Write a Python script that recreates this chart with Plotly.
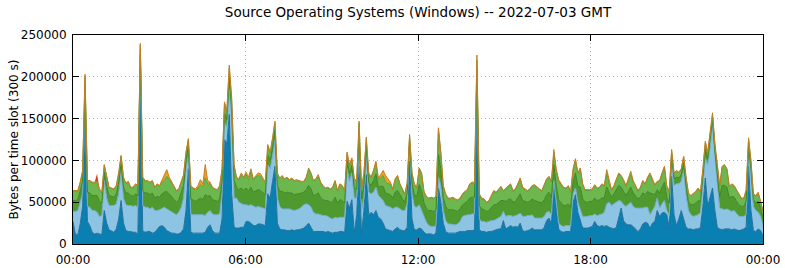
import plotly.graph_objects as go

# 5-minute slots over 2022-07-03 (288 slots), values in thousands of bytes per slot
win_blue = [
    27,12,11,24,45,155,27,22,14,12, 13,12,11,40,25,17,15,14,18,30, 52,25,16,15,15,14,14,12,205,16,
    14,15,15,13,14,18,21,22,20,16, 14,13,13,12,12,14,18,40,
    90,14,13,13,13,13,13,14,20,23, 16,13,13,13,30,125,120,155,60,20, 19,19,20,20,27,27,25,22,22,24,
    24,23,22,60,55,75,93,25,18,17, 17,16,16,17,16,17,17,18,
    19,22,25,20,15,15,15,15,15,14, 15,14,13,14,14,15,15,14,51,43, 53,13,35,93,12,40,83,35,38,35,
    40,32,30,25,18,17,16,15,18,20, 17,16,16,20,99,30,17,17,
    19,18,14,12,12,12,11,13,67,50, 25,15,13,13,13,13,14,15,15,15, 16,16,16,17,176,17,15,15,14,15,
    15,16,17,18,18,28,18,20,22,20, 21,20,25,16,15,16,17,19,
    17,17,17,17,20,28,31,24,71,40, 18,15,14,15,15,15,50,59,38,28, 19,19,19,20,21,27,22,21,22,21,
    22,20,19,18,20,30,43,28,24,23, 23,21,18,15,18,24,26,25,
    19,25,27,40,33,37,38,35,20,81, 35,22,30,40,30,20,18,18,17,18, 18,20,45,79,45,55,67,40,20,18,
    17,18,18,18,17,18,17,16,17,18, 20,93,40,16,15,18,16,10,
]
win_lightblue = [
    12,27,29,26,15,23,18,22,26,28, 25,21,23,36,30,29,31,32,30,30, 35,30,31,31,31,31,32,32,21,30,
    30,29,27,31,26,22,20,21,24,26, 26,25,23,23,26,30,37,50,
    17,22,22,22,22,22,22,20,18,17, 20,22,22,23,30,20,20,30,90,35, 36,31,28,27,20,19,22,23,22,21,
    20,20,20,35,35,30,32,30,27,25, 25,26,26,24,24,24,25,26,
    28,26,22,24,23,21,21,20,19,20, 18,17,17,18,17,17,17,18,39,32, 32,42,20,24,28,15,22,27,22,27,
    28,26,25,27,28,28,28,27,26,24, 25,24,24,28,20,30,28,27,
    28,22,19,14,10,9,10,9,13,20, 15,13,11,11,10,10,10,12,18,19, 19,19,20,19,14,13,12,12,12,12,
    13,12,13,13,15,11,15,14,12,13, 13,15,12,17,18,18,17,16,
    14,14,14,14,13,10,8,11,5,10, 7,7,7,7,7,7,10,8,12,12, 14,14,14,14,13,9,12,14,14,17,
    26,30,27,30,30,22,8,19,21,25, 27,24,25,28,25,19,18,19,
    16,15,18,15,10,11,14,5,14,19, 35,50,42,35,58,38,22,17,16,16, 17,18,25,24,50,60,76,60,50,25,
    25,23,24,22,22,22,19,17,16,15, 15,16,40,29,25,20,17,12,
]
win_darkgreen = [
    13,13,13,13,15,13,17,17,18,18, 20,18,15,10,14,12,11,10,12,13, 10,13,14,15,12,12,14,14,7,18,
    17,17,17,17,15,17,15,17,18,21, 20,19,18,15,15,17,15,10,
    10,18,17,16,18,20,18,25,19,18, 17,17,16,18,15,12,9,14,12,21, 13,15,19,17,20,17,21,17,20,20,
    20,18,17,12,10,11,11,15,18,21, 19,20,19,20,19,19,18,17,
    15,17,23,22,20,23,25,21,19,18, 19,19,20,24,18,21,20,17,10,10, 9,12,11,15,14,16,12,12,10,14,
    16,10,14,17,15,15,15,13,18,20, 16,14,10,13,6,13,14,13,
    24,24,16,17,18,19,18,19,27,20, 16,17,17,17,18,17,15,15,14,15, 16,20,20,20,20,16,15,14,13,13,
    16,19,17,19,19,13,18,19,20,17, 17,20,23,19,18,16,17,19,
    21,20,19,18,20,21,23,21,19,20, 28,27,25,24,26,22,15,18,19,28, 21,17,17,17,17,19,18,18,19,17,
    20,12,10,12,15,18,17,16,13,15, 18,16,14,11,13,18,15,19,
    26,20,14,10,18,20,22,15,15,6, 8,8,7,8,9,12,11,12,14,15, 17,13,10,10,7,10,6,10,13,14,
    28,29,26,15,18,16,15,14,12,12, 16,9,10,8,9,13,10,9,
]
win_lightgreen = [
    11,11,10,10,12,10,13,14,15,15, 16,14,12,8,12,9,9,9,9,11, 8,11,11,13,9,10,11,11,5,15,
    14,14,14,14,12,14,13,14,14,18, 17,16,15,13,12,13,12,9,
    8,15,14,13,14,16,15,20,15,14, 14,13,13,15,13,10,8,11,10,17, 11,12,16,14,16,14,18,14,16,17,
    17,15,14,10,8,9,9,13,15,18, 16,17,15,17,16,16,15,13,
    12,14,19,18,17,18,20,17,16,14, 15,15,17,19,14,18,17,14,8,8, 7,10,9,13,11,13,9,10,9,11,
    13,9,11,13,13,12,13,10,15,17, 13,11,9,11,4,11,12,10,
    19,20,13,13,14,15,15,15,30,18, 13,14,13,13,14,13,13,12,12,13, 13,16,17,16,10,13,12,12,10,11,
    13,16,14,15,16,11,15,16,17,13, 14,16,18,15,14,13,14,15,
    18,16,15,14,16,18,18,18,15,17, 22,22,21,20,21,18,13,15,15,22, 17,14,14,13,14,15,14,14,16,14,
    17,10,8,9,12,14,13,13,11,13, 15,13,12,9,11,14,12,16,
    22,17,11,9,14,16,18,13,12,5, 6,7,6,6,7,9,9,10,12,13, 14,11,8,8,6,8,5,8,10,12,
    22,24,21,13,14,13,13,12,9,9, 13,7,8,6,8,10,8,8,
]
win_orange = [
    1,1,1,1,1,2,1,1,1,1, 1,1,1,1,1,1,1,1,1,1, 1,1,1,1,1,1,1,1,2,1,
    1,1,1,1,1,1,1,3,6,8, 3,1,1,1,1,1,1,1,
    1,1,1,2,3,6,4,16,4,2, 1,1,1,1,2,3,3,4,3,2, 1,1,2,2,3,3,4,2,2,3,
    3,2,1,2,2,2,2,2,1,1, 1,1,1,1,1,1,1,1,
    1,1,2,1,1,1,2,1,1,1, 1,1,1,1,1,1,1,1,2,2, 2,1,1,2,1,1,2,1,1,1,
    2,2,3,6,8,6,2,1,1,1, 1,1,1,1,2,1,1,1,
    1,1,1,1,1,1,1,1,2,2, 1,1,1,1,1,1,1,1,1,1, 1,1,1,2,6,1,1,1,1,1,
    1,1,1,1,1,1,1,1,1,1, 1,1,1,1,1,1,1,1,
    1,1,1,1,1,1,1,1,3,3, 2,1,1,1,1,1,2,2,1,1, 1,1,1,1,1,1,1,1,1,1,
    4,3,1,1,1,1,1,1,1,2, 4,2,1,1,1,1,1,1,
    2,1,1,1,1,1,1,1,3,2, 1,1,1,1,1,1,1,1,1,1, 1,1,2,2,2,2,3,2,2,1,
    1,1,1,1,1,1,1,1,1,1, 1,2,2,1,1,1,1,1,
]
win_red = [
    0,0,0,0,0,0,0,0,0,0, 9,0,0,0,0,0,0,0,0,0, 0,0,0,0,0,0,0,0,0,0,
    0,0,0,0,0,0,0,0,0,0, 0,0,0,0,0,0,0,0,
] + [0] * 240

tick_labels = ["00:00", "06:00", "12:00", "18:00", "00:00"]
title_text = "Source Operating Systems (Windows) -- 2022-07-03 GMT"
y_title = "Bytes per time slot (300 s)"

n = len(win_blue)
x = [i * 24.0 / (n - 1) for i in range(n)]

series = [
    (win_blue, "#0a7fb1", "#22709a", 1),
    (win_lightblue, "#8ec4e3", "#74acd0", 1),
    (win_darkgreen, "#4e9a2f", "#3e8424", 1),
    (win_lightgreen, "#6cb84f", "#5aa43e", 1),
    (win_orange, "#f2a024", "#c47e22", 1),
    (win_red, "#d4421a", "rgba(0,0,0,0)", 0),
]

fig = go.Figure()
for vals, fill, line, lw in series:
    fig.add_trace(go.Scatter(
        x=x, y=[v * 1000 for v in vals], mode="lines", stackgroup="one",
        fillcolor=fill, line=dict(color=line, width=lw),
        hoverinfo="skip", showlegend=False,
    ))

font = "DejaVu Sans, Liberation Sans, sans-serif"
fig.update_layout(
    width=785, height=268, autosize=False,
    margin=dict(l=73, r=22, t=35, b=24, pad=0, autoexpand=False),
    paper_bgcolor="white", plot_bgcolor="white",
    font=dict(family=font, size=12, color="black"),
    title=dict(text=title_text, x=0.5, xref="paper", xanchor="center",
               y=1 - 12 / 268, yref="container", yanchor="middle",
               font=dict(family=font, size=13.5, color="black")),
    annotations=[dict(text=y_title, textangle=-90, x=(13 - 73) / 690, xref="paper",
                      y=0.5, yref="paper", xanchor="center", yanchor="middle",
                      showarrow=False, font=dict(family=font, size=12, color="black"))],
)
fig.update_xaxes(
    range=[0, 24], tickvals=[0, 6, 12, 18, 24], ticktext=tick_labels,
    showline=True, linecolor="black", linewidth=1, mirror="allticks",
    ticks="inside", ticklen=6, tickcolor="black", automargin=False,
    ticklabelstandoff=5,
    showgrid=True, gridcolor="#b0b0b0", griddash="1px,3px", gridwidth=1,
    zeroline=False, tickfont=dict(size=12),
)
fig.update_yaxes(
    range=[0, 250000], tickvals=[0, 50000, 100000, 150000, 200000, 250000],
    ticktext=["0", "50000", "100000", "150000", "200000", "250000"],
    showline=True, linecolor="black", linewidth=1, mirror="allticks",
    ticks="inside", ticklen=6, tickcolor="black", automargin=False,
    ticklabelstandoff=3,
    showgrid=True, gridcolor="#b0b0b0", griddash="1px,3px", gridwidth=1,
    zeroline=False, tickfont=dict(size=12),
)

fig.write_html("out.html")
